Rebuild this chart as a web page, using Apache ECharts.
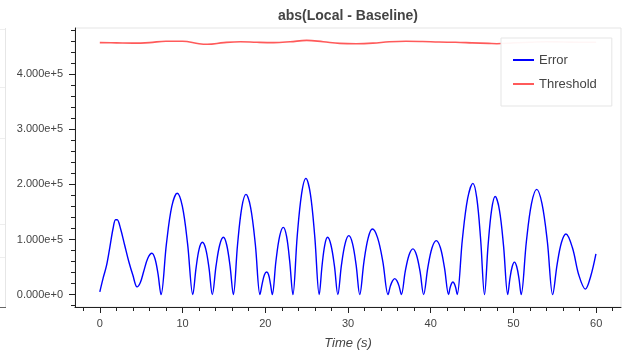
<!DOCTYPE html>
<html>
<head>
<meta charset="utf-8">
<script src="https://cdn.jsdelivr.net/npm/echarts@6/dist/echarts.min.js"></script>
<style>
  html, body { margin: 0; padding: 0; background: #fff; }
  #chart { width: 623px; height: 360px; }
</style>
</head>
<body>
<div id="chart"></div>
<script>
// error curve (seconds, value)
var errTimes = [
  0, 0.4, 0.8, 1.2, 1.6, 1.9, 2.1, 2.5, 3.0, 3.5, 4.0, 4.5, 4.9, 5.3, 5.8, 6.3, 6.67, 7.03, 7.4,
  8.05, 8.7, 9.35, 9.98, 10.61, 11.24,
  11.63, 12.01, 12.4, 12.8, 13.2, 13.6,
  14.05, 14.49, 14.94, 15.34, 15.74, 16.14,
  16.65, 17.16, 17.67, 18.23, 18.8, 19.36,
  19.63, 19.9, 20.17, 20.4, 20.62, 20.85,
  21.29, 21.74, 22.18, 22.57, 22.95, 23.34,
  23.86, 24.39, 24.91, 25.45, 25.98, 26.52,
  26.86, 27.19, 27.53, 27.94, 28.36, 28.77,
  29.21, 29.66, 30.1, 30.54, 30.98, 31.42,
  31.93, 32.44, 32.95, 33.58, 34.21, 34.84,
  35.11, 35.38, 35.65, 35.92, 36.18, 36.45,
  36.92, 37.38, 37.85, 38.28, 38.71, 39.14,
  39.65, 40.16, 40.67, 41.17, 41.66, 42.16,
  42.33, 42.51, 42.68, 42.85, 43.03, 43.2,
  43.83, 44.47, 45.1, 45.57, 46.03, 46.5,
  46.93, 47.36, 47.79, 48.3, 48.8, 49.31,
  49.58, 49.85, 50.12, 50.39, 50.66, 50.93,
  51.56, 52.18, 52.81, 53.45, 54.1, 54.74,
  55.28, 55.81, 56.35, 57.13, 57.91, 58.69, 59.33, 59.97
];
var errValues = [
  5000, 30000, 52000, 85000, 120000, 136000, 136000, 120000, 90000, 60000, 35000, 14000, 22000, 42000, 66000, 75000, 65000, 38000, 0,
  92000, 160000, 184000, 160000, 92000, 0,
  48000, 83000, 95000, 83000, 48000, 0,
  52000, 90000, 104000, 90000, 52000, 0,
  91000, 158000, 182000, 158000, 91000, 0,
  20000, 36000, 41000, 36000, 20000, 0,
  61000, 106000, 122000, 106000, 61000, 0,
  106000, 183000, 211000, 183000, 106000, 0,
  52000, 90000, 104000, 90000, 52000, 0,
  54000, 93000, 107000, 93000, 54000, 0,
  60000, 103000, 119000, 103000, 60000, 0,
  15000, 25000, 29000, 25000, 15000, 0,
  42000, 72000, 83000, 72000, 42000, 0,
  49000, 85000, 98000, 85000, 49000, 0,
  12000, 20000, 23000, 20000, 12000, 0,
  101000, 175000, 202000, 175000, 101000, 0,
  89000, 154000, 178000, 154000, 89000, 0,
  30000, 51000, 59000, 51000, 30000, 0,
  96000, 165000, 191000, 165000, 96000, 0,
  55000, 95000, 110000, 85000, 35000, 10000, 33000, 74000
];

// threshold curve
var thrTimes = [0, 2, 4, 6, 8, 10, 12, 13, 15, 17, 19, 21, 23, 25, 27, 29, 31, 33, 35, 37, 39, 41, 43, 45, 47, 48, 50, 52, 54, 56, 58, 60];
var thrValues = [
  457500, 457000, 456500, 457500, 460000, 460000, 455500, 454500, 457500, 459000, 458000, 457500, 459000, 461500, 459000, 456000,
  455500, 456500, 459000, 460000, 459500, 458500, 458000, 457000, 456000, 455500, 457000, 458000, 459000, 458500, 458000, 458000
];

// ticks
var xMajor = [0, 10, 20, 30, 40, 50, 60];
var xMinor = [-2, 2, 4, 6, 8, 12, 14, 16, 18, 22, 24, 26, 28, 32, 34, 36, 38, 42, 44, 46, 48, 52, 54, 56, 58, 62];
var yMajor = [0, 100000, 200000, 300000, 400000];
var yMinor = [-20000, 20000, 40000, 60000, 80000, 120000, 140000, 160000, 180000, 220000, 240000, 260000, 280000,
  320000, 340000, 360000, 380000, 420000, 440000, 460000, 480000];

var FONT = "'Liberation Sans', Arial, Helvetica, sans-serif";
var AXIS_COLOR = '#222';
var TEXT_COLOR = '#444';

var errData = errTimes.map(function (t, i) { return [t, errValues[i]]; });
var thrData = thrTimes.map(function (t, i) { return [t, thrValues[i]]; });

var myChart = echarts.init(document.getElementById('chart'), null, { renderer: 'canvas' });

var option = {
  animation: false,
  backgroundColor: '#fff',
  textStyle: { fontFamily: FONT },
  grid: {
    left: 75, right: 2, top: 28, bottom: 53,
    show: true, borderColor: '#e5e5e5', borderWidth: 1, backgroundColor: '#fff',
    containLabel: false
  },
  graphic: [
    { type: 'text', x: 348, y: 16,
      style: { text: 'abs(Local - Baseline)', font: 'bold 14px ' + FONT, fill: TEXT_COLOR,
        textAlign: 'center', textVerticalAlign: 'middle' } },
    // fragment of the neighbouring panel at the left edge
    { type: 'line', shape: { x1: 5.5, y1: 28, x2: 5.5, y2: 307 }, style: { stroke: '#e6e6e6', lineWidth: 1 } },
    { type: 'line', shape: { x1: 0, y1: 29.5, x2: 5, y2: 29.5 }, style: { stroke: '#eeeeee', lineWidth: 1 } },
    { type: 'line', shape: { x1: 0, y1: 87.5, x2: 5, y2: 87.5 }, style: { stroke: '#eeeeee', lineWidth: 1 } },
    { type: 'line', shape: { x1: 0, y1: 138.5, x2: 5, y2: 138.5 }, style: { stroke: '#eeeeee', lineWidth: 1 } },
    { type: 'line', shape: { x1: 0, y1: 224.5, x2: 5, y2: 224.5 }, style: { stroke: '#eeeeee', lineWidth: 1 } },
    { type: 'line', shape: { x1: 0, y1: 257.5, x2: 5, y2: 257.5 }, style: { stroke: '#eeeeee', lineWidth: 1 } },
    { type: 'line', shape: { x1: 0, y1: 307.5, x2: 6, y2: 307.5 }, style: { stroke: '#666', lineWidth: 1 } }
  ],
  legend: {
    orient: 'vertical',
    left: 501, top: 38,
    padding: [14, 15, 14, 12],
    itemGap: 8,
    itemWidth: 21, itemHeight: 2,
    icon: 'rect',
    backgroundColor: 'rgba(255,255,255,0.95)',
    borderColor: '#e5e5e5', borderWidth: 1, borderRadius: 0,
    textStyle: { fontFamily: FONT, fontSize: 13, color: TEXT_COLOR, lineHeight: 16 },
    data: ['Error', 'Threshold']
  },
  xAxis: [
    {
      type: 'value', min: -3, max: 63,
      name: 'Time (s)', nameLocation: 'middle', nameGap: 30,
      nameTextStyle: { fontFamily: FONT, fontSize: 13, fontStyle: 'italic', color: TEXT_COLOR },
      axisLine: { show: true, onZero: false, lineStyle: { color: AXIS_COLOR, width: 1 } },
      axisTick: { show: true, length: 6, customValues: xMajor, lineStyle: { color: AXIS_COLOR } },
      axisLabel: { customValues: xMajor, margin: 11, fontSize: 11, color: TEXT_COLOR, fontFamily: FONT },
      splitLine: { show: false }
    },
    {
      type: 'value', min: -3, max: 63, position: 'bottom',
      axisLine: { show: false, onZero: false },
      axisTick: { show: true, length: 4, customValues: xMinor, lineStyle: { color: AXIS_COLOR } },
      axisLabel: { show: false },
      splitLine: { show: false }
    }
  ],
  yAxis: [
    {
      type: 'value', min: -22500, max: 484000,
      axisLine: { show: true, onZero: false, lineStyle: { color: AXIS_COLOR, width: 1 } },
      axisTick: { show: true, length: 6, customValues: yMajor, lineStyle: { color: AXIS_COLOR } },
      axisLabel: {
        customValues: yMajor, margin: 12, fontSize: 11, color: TEXT_COLOR, fontFamily: FONT,
        formatter: function (v) { return Number(v).toExponential(3); }
      },
      splitLine: { show: false }
    },
    {
      type: 'value', min: -22500, max: 484000, position: 'left',
      axisLine: { show: false, onZero: false },
      axisTick: { show: true, length: 4, customValues: yMinor, lineStyle: { color: AXIS_COLOR } },
      axisLabel: { show: false },
      splitLine: { show: false }
    }
  ],
  series: [
    {
      name: 'Error', type: 'line', xAxisIndex: 0, yAxisIndex: 0,
      data: errData, showSymbol: false, smooth: 0.35,
      lineStyle: { color: '#0000ff', width: 1.4 },
      itemStyle: { color: '#0000ff' },
      z: 3
    },
    {
      name: 'Threshold', type: 'line', xAxisIndex: 0, yAxisIndex: 0,
      data: thrData, showSymbol: false, smooth: 0.4,
      lineStyle: { color: '#ff5a5a', width: 1.6 },
      itemStyle: { color: '#ff5a5a' },
      z: 3
    }
  ]
};

myChart.setOption(option);
window.addEventListener('resize', myChart.resize);
</script>
</body>
</html>
